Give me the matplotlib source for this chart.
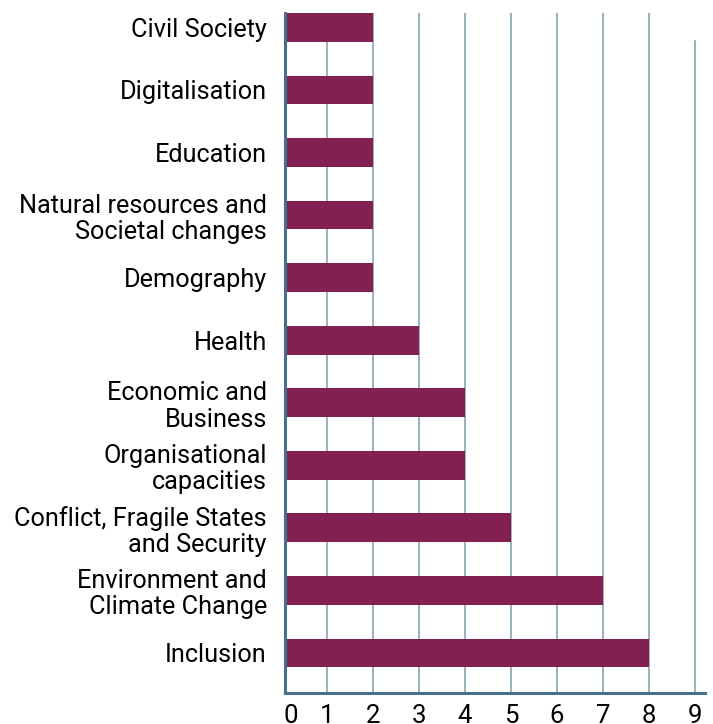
import numpy as np
import matplotlib.pyplot as plt

plt.rcParams['font.family'] = 'Roboto'

categories = ['Inclusion', 'Environment and\nClimate Change', 'Conflict, Fragile States\nand Security',
              'Organisational\ncapacities', 'Economic and\nBusiness', 'Health', 'Demography',
              'Natural resources and\nSocietal changes', 'Education', 'Digitalisation', 'Civil Society']
counts = [8, 7, 5, 4, 4, 3, 2, 2, 2, 2, 2]
x_ticks = list(range(10))

fig = plt.figure(figsize=(7.13, 7.24), dpi=100)
ax = fig.add_axes([0.3997, 0.0428, 0.589, 0.9392])

y = np.arange(len(categories))
bar_h = 0.46
ax.barh(y, counts, height=bar_h, color='#822051', zorder=3)

for t in x_ticks[1:]:
    top = 0.959 if t == 9 else 1.0
    ax.axvline(t, ymin=0, ymax=top, color='#7f9cab', lw=1.1, zorder=1)

ax.set_xlim(0.087, 9.22)
ax.set_ylim(-0.64, len(categories) - 1 + bar_h / 2)
ax.set_yticks(y)
ax.set_yticklabels(categories, fontsize=18.2, ha='right', linespacing=1.12)
# the 0 label sits a little right of the axis line, as in the source
ax.set_xticks([0.22] + x_ticks[1:])
ax.set_xticklabels([str(t) for t in x_ticks], fontsize=18.5)
ax.tick_params(axis='both', length=0)
ax.tick_params(axis='y', pad=13)
ax.tick_params(axis='x', pad=8)

for s in ['top', 'right']:
    ax.spines[s].set_visible(False)
for s in ['left', 'bottom']:
    ax.spines[s].set_color('#46708a')
    ax.spines[s].set_linewidth(2.2)
    ax.spines[s].set_zorder(4)

fig.savefig('out.png', dpi=100)
